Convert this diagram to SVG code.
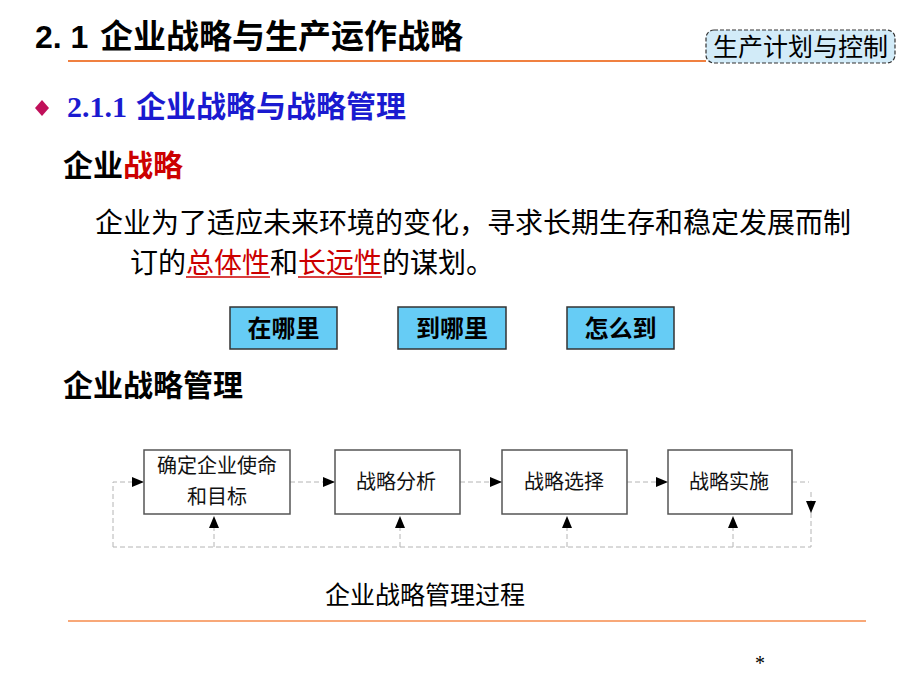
<svg xmlns="http://www.w3.org/2000/svg" width="920" height="690" viewBox="0 0 920 690">
<defs>
<style>
.cjk{font-family:"Noto Sans CJK SC","Liberation Sans",sans-serif;}
.bold{font-weight:bold;}
.conn{fill:none;stroke:#b4b4b4;stroke-width:1;stroke-dasharray:5 3;}
.fbox{fill:#ffffff;stroke:#555555;stroke-width:1.5;}
.btxt{font-family:"Noto Sans CJK SC",sans-serif;font-size:20px;fill:#111;text-anchor:middle;}
.qbox{fill:#66ccf5;stroke:#333333;stroke-width:1.5;}
.qtxt{font-family:"Noto Sans CJK SC",sans-serif;font-size:24px;font-weight:bold;fill:#000;text-anchor:middle;}
</style>
<marker id="ah" viewBox="0 0 12 10" refX="12" refY="5" markerWidth="12" markerHeight="10" markerUnits="userSpaceOnUse" orient="auto">
<path d="M0,0 L12,5 L0,10 Z" fill="#000"/>
</marker>
</defs>
<rect width="920" height="690" fill="#ffffff"/>

<!-- title -->
<g id="title">
<text x="35" y="48" font-family="Liberation Sans, sans-serif" font-size="32" font-weight="bold" fill="#000">2. 1</text>
<text x="100" y="48" class="cjk bold" font-size="33" fill="#000">企业战略与生产运作战略</text>
<line x1="68" y1="61" x2="706" y2="61" stroke="#f08040" stroke-width="2"/>
</g>
<g id="tag">
<rect x="706" y="30" width="189" height="33" rx="8" fill="#d2ebf8" stroke="#333" stroke-width="1.2" stroke-dasharray="4 2"/>
<text x="800.5" y="56" class="cjk" font-size="25" fill="#000" text-anchor="middle">生产计划与控制</text>
</g>

<!-- subtitle -->
<g id="subtitle">
<path d="M42,100 L49,108 L42,116 L35,108 Z" fill="#c0105a"/>
<text x="67" y="117" font-family="Liberation Serif, serif" font-size="30" font-weight="bold" fill="#1a1ad0">2.1.1</text>
<text x="136" y="117" class="cjk bold" font-size="30" fill="#1a1ad0">企业战略与战略管理</text>
</g>

<g id="heading1">
<text x="63" y="176" class="cjk bold" font-size="30" fill="#000">企业<tspan fill="#cc0000">战略</tspan></text>
</g>

<g id="definition">
<text x="95" y="233" class="cjk" font-size="28" fill="#000">企业为了适应未来环境的变化，寻求长期生存和稳定发展而制</text>
<text x="130" y="273" class="cjk" font-size="28" fill="#000">订的<tspan fill="#cc0000">总体性</tspan>和<tspan fill="#cc0000">长远性</tspan>的谋划。</text>
<line x1="186" y1="277" x2="270" y2="277" stroke="#cc0000" stroke-width="1.5"/>
<line x1="298" y1="277" x2="382" y2="277" stroke="#cc0000" stroke-width="1.5"/>
</g>

<g id="q1">
<rect x="230" y="307" width="107" height="42" class="qbox"/>
<text x="283.5" y="337" class="qtxt">在哪里</text>
</g>
<g id="q2">
<rect x="398" y="307" width="108" height="42" class="qbox"/>
<text x="452" y="337" class="qtxt">到哪里</text>
</g>
<g id="q3">
<rect x="567" y="307" width="107" height="42" class="qbox"/>
<text x="620.5" y="337" class="qtxt">怎么到</text>
</g>

<g id="heading2">
<text x="63" y="396" class="cjk bold" font-size="30" fill="#000">企业战略管理</text>
</g>

<!-- connectors -->
<g id="connectors">
<path class="conn" d="M113,547 L113,482 L144,482" marker-end="url(#ah)"/>
<path class="conn" d="M290,482 L335,482" marker-end="url(#ah)"/>
<path class="conn" d="M460,482 L502,482" marker-end="url(#ah)"/>
<path class="conn" d="M627,482 L668,482" marker-end="url(#ah)"/>
<path class="conn" d="M792,482 L809,482"/>
<path class="conn" d="M811,492 L811,513" marker-end="url(#ah)"/>
<path class="conn" d="M811,513 L811,547 L113,547"/>
<path class="conn" d="M214,547 L214,516" marker-end="url(#ah)"/>
<path class="conn" d="M400,547 L400,516" marker-end="url(#ah)"/>
<path class="conn" d="M567,547 L567,516" marker-end="url(#ah)"/>
<path class="conn" d="M733,547 L733,516" marker-end="url(#ah)"/>
</g>

<g id="step1">
<rect x="144" y="450" width="146" height="64" class="fbox"/>
<text x="217" y="473" class="btxt">确定企业使命</text>
<text x="217" y="504" class="btxt">和目标</text>
</g>
<g id="step2">
<rect x="335" y="450" width="125" height="64" class="fbox"/>
<text x="396" y="489" class="btxt">战略分析</text>
</g>
<g id="step3">
<rect x="502" y="450" width="125" height="64" class="fbox"/>
<text x="564" y="489" class="btxt">战略选择</text>
</g>
<g id="step4">
<rect x="668" y="450" width="124" height="64" class="fbox"/>
<text x="729" y="489" class="btxt">战略实施</text>
</g>

<g id="caption">
<text x="425" y="604" class="cjk" font-size="25" fill="#000" text-anchor="middle">企业战略管理过程</text>
<line x1="68" y1="621" x2="866" y2="621" stroke="#f8a878" stroke-width="2"/>
</g>
<text x="760" y="670" font-family="Liberation Serif, serif" font-size="20" fill="#000" text-anchor="middle">*</text>
</svg>
